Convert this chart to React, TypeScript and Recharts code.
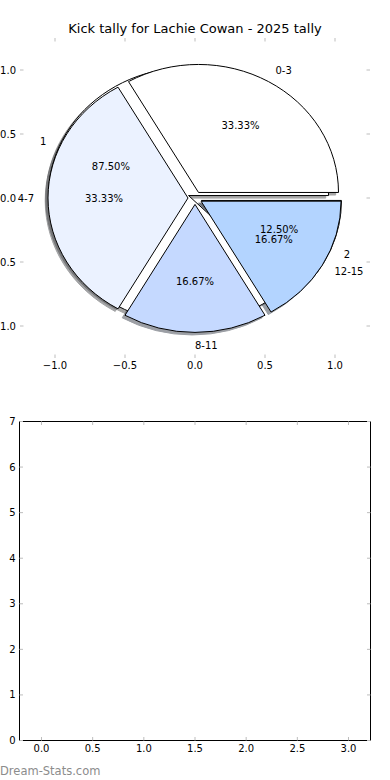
import React from 'react';
import { PieChart, Pie, Cell, ScatterChart, Scatter, XAxis, YAxis } from 'recharts';

// ---- data ----
const kickBins = ['0-3', '4-7', '8-11', '12-15'];
const kickCounts = [2, 2, 1, 1];
const groupNames = ['1', '2'];
const groupCounts = [7, 1];
const pieAxisTicks = [-1, -0.5, 0, 0.5, 1];
const barXTicks = [0, 0.5, 1, 1.5, 2, 2.5, 3];
const barYTicks = [0, 1, 2, 3, 4, 5, 6, 7];
const titleText = 'Kick tally for Lachie Cowan - 2025 tally';
const watermarkText = 'Dream-Stats.com';

// ---- styles ----
const binColors = ['#ffffff', '#ebf2ff', '#c5d9ff', '#b3d4ff'];
const groupColors = ['#ffffff', '#ebf2ff'];
const FONT = "'DejaVu Sans', sans-serif";
const TICK_COLOR = '#bdbdbd';
const TICK_LEN = 3.5;
const SX = 140 / 128; // horizontal stretch of the (non-equal-aspect) pie
const EXPLODE = 0.05;
const SHADOW = 0.02;
const RAD = Math.PI / 180;

const binsData = kickBins.map((name, i) => ({ name, value: kickCounts[i] }));
const groupsData = groupNames.map((name, i) => ({ name, value: groupCounts[i] }));

function fmt1(v: number) {
  const s = Math.abs(v).toFixed(1);
  return v < 0 ? '\u2212' + s : s;
}

function shadowColor(hex: string) {
  const h = (hex || '#ffffff').replace('#', '');
  const r = Math.round(parseInt(h.slice(0, 2), 16) * 0.3);
  const g = Math.round(parseInt(h.slice(2, 4), 16) * 0.3);
  const b = Math.round(parseInt(h.slice(4, 6), 16) * 0.3);
  return `rgb(${r},${g},${b})`;
}

function wedgePath(cx: number, cy: number, rx: number, ry: number, a0: number, a1: number) {
  const x0 = cx + rx * Math.cos(a0 * RAD);
  const y0 = cy - ry * Math.sin(a0 * RAD);
  const x1 = cx + rx * Math.cos(a1 * RAD);
  const y1 = cy - ry * Math.sin(a1 * RAD);
  const large = a1 - a0 > 180 ? 1 : 0;
  return `M${cx},${cy}L${x0},${y0}A${rx},${ry} 0 ${large} 0 ${x1},${y1}Z`;
}

const makeWedge = (kind: 'shadow' | 'fill' | 'none') => (props: any) => {
  const { cx, cy, outerRadius, startAngle, endAngle, fill } = props;
  if (kind === 'none') return <g />;
  const a0 = Math.min(startAngle, endAngle);
  const a1 = Math.max(startAngle, endAngle);
  const mid = ((a0 + a1) / 2) * RAD;
  const rx = outerRadius * SX;
  const ry = outerRadius;
  let ox = cx + EXPLODE * rx * Math.cos(mid);
  let oy = cy - EXPLODE * ry * Math.sin(mid);
  if (kind === 'shadow') {
    ox -= SHADOW * rx;
    oy += SHADOW * ry;
    const c = shadowColor(fill);
    return <path d={wedgePath(ox, oy, rx, ry, a0, a1)} fill={c} stroke={c} strokeWidth={1} opacity={0.5} />;
  }
  return <path d={wedgePath(ox, oy, rx, ry, a0, a1)} fill={fill} stroke="#000" strokeWidth={1} />;
};

const pieLabel = (props: any) => {
  const { cx, cy, outerRadius, percent } = props;
  const name = props.name ?? props.payload?.name;
  const midDeg = props.midAngle ?? (props.startAngle + props.endAngle) / 2;
  const m = midDeg * RAD;
  const rx = outerRadius * SX;
  const ry = outerRadius;
  const ox = cx + EXPLODE * rx * Math.cos(m);
  const oy = cy - EXPLODE * ry * Math.sin(m);
  const lx = ox + 1.1 * rx * Math.cos(m);
  const ly = oy - 1.1 * ry * Math.sin(m);
  const px = ox + 0.6 * rx * Math.cos(m);
  const py = oy - 0.6 * ry * Math.sin(m);
  const anchor = Math.cos(m) > -1e-6 ? 'start' : 'end';
  return (
    <g>
      <text x={lx} y={ly} textAnchor={anchor} dominantBaseline="central" fontFamily={FONT} fontSize={10} fill="#000">
        {name}
      </text>
      <text x={px} y={py} textAnchor="middle" dominantBaseline="central" fontFamily={FONT} fontSize={10} fill="#000">
        {(percent * 100).toFixed(2) + '%'}
      </text>
    </g>
  );
};

// ---- ticks ----
const BottomTick = (p: any) => (
  <g>
    <line x1={p.x} x2={p.x} y1={p.y} y2={p.y - TICK_LEN} stroke={TICK_COLOR} strokeWidth={1} />
    <text x={p.x} y={p.y + 7.5} textAnchor="middle" dominantBaseline="central" fontFamily={FONT} fontSize={10} fill="#000">
      {p.fmt(p.payload.value)}
    </text>
  </g>
);
const TopTick = (p: any) => (
  <line x1={p.x} x2={p.x} y1={p.y} y2={p.y + TICK_LEN} stroke={TICK_COLOR} strokeWidth={1} />
);
const LeftTick = (p: any) => (
  <g>
    <line x1={p.x} x2={p.x + TICK_LEN} y1={p.y} y2={p.y} stroke={TICK_COLOR} strokeWidth={1} />
    <text x={p.x - 4} y={p.y} textAnchor="end" dominantBaseline="central" fontFamily={FONT} fontSize={10} fill="#000">
      {p.fmt(p.payload.value)}
    </text>
  </g>
);
const RightTick = (p: any) => (
  <line x1={p.x} x2={p.x - TICK_LEN} y1={p.y} y2={p.y} stroke={TICK_COLOR} strokeWidth={1} />
);

function AxesFrame(props: {
  width: number;
  height: number;
  plot: { left: number; right: number; top: number; bottom: number };
  xDomain: [number, number];
  yDomain: [number, number];
  xTicks: number[];
  yTicks: number[];
  xFmt: (v: number) => string;
  yFmt: (v: number) => string;
  frame: boolean;
}) {
  const { width, height, plot, xDomain, yDomain, xTicks, yTicks, xFmt, yFmt, frame } = props;
  // axes take 1px each; margins are reduced so the plot area lands on `plot`
  const margin = { top: plot.top - 1, left: plot.left - 1, right: width - plot.right - 1, bottom: height - plot.bottom - 1 };
  const axisLine = frame ? { stroke: '#000', strokeWidth: 1 } : false;
  const common = { tickLine: false, tickSize: 0, tickMargin: 0, interval: 0 as const, allowDataOverflow: true, type: 'number' as const };
  return (
    <ScatterChart width={width} height={height} margin={margin}>
      <XAxis {...common} xAxisId="b" dataKey="x" orientation="bottom" height={1} domain={xDomain} ticks={xTicks} axisLine={axisLine} tick={<BottomTick fmt={xFmt} />} />
      <XAxis {...common} xAxisId="t" dataKey="x" orientation="top" height={1} domain={xDomain} ticks={xTicks} axisLine={axisLine} tick={<TopTick />} />
      <YAxis {...common} yAxisId="l" dataKey="y" orientation="left" width={1} domain={yDomain} ticks={yTicks} axisLine={axisLine} tick={<LeftTick fmt={yFmt} />} />
      <YAxis {...common} yAxisId="r" dataKey="y" orientation="right" width={1} domain={yDomain} ticks={yTicks} axisLine={axisLine} tick={<RightTick />} />
      <Scatter data={[]} dataKey="y" xAxisId="b" yAxisId="l" isAnimationActive={false} />
      <Scatter data={[]} dataKey="y" xAxisId="t" yAxisId="r" isAnimationActive={false} />
    </ScatterChart>
  );
}

export default function App() {
  return (
    <div style={{ position: 'absolute', left: 0, top: 0, width: 390, height: 780, background: '#fff', overflow: 'hidden' }}>
      {/* title */}
      <svg width={390} height={40} style={{ position: 'absolute', left: 0, top: 0 }}>
        <text x={195} y={33} textAnchor="middle" fontFamily={FONT} fontSize={13} fill="#000">
          {titleText}
        </text>
      </svg>

      {/* pie axes ticks */}
      <div style={{ position: 'absolute', left: 0, top: 0 }}>
        <AxesFrame
          width={390}
          height={385}
          plot={{ left: 20, right: 370, top: 38, bottom: 358 }}
          xDomain={[-1.25, 1.25]}
          yDomain={[-1.25, 1.25]}
          xTicks={pieAxisTicks}
          yTicks={pieAxisTicks}
          xFmt={fmt1}
          yFmt={fmt1}
          frame={false}
        />
      </div>

      {/* pies */}
      <div style={{ position: 'absolute', left: 0, top: 0 }}>
        <PieChart width={390} height={385} margin={{ top: 0, right: 0, bottom: 0, left: 0 }}>
          <Pie data={groupsData} dataKey="value" nameKey="name" cx={195} cy={198} outerRadius={128} startAngle={0} endAngle={360}
            isAnimationActive={false} label={false} labelLine={false}
            shape={makeWedge('shadow')} inactiveShape={makeWedge('shadow')} activeShape={makeWedge('shadow')}>
            {groupsData.map((d, i) => <Cell key={d.name} fill={groupColors[i]} />)}
          </Pie>
          <Pie data={binsData} dataKey="value" nameKey="name" cx={195} cy={198} outerRadius={128} startAngle={0} endAngle={360}
            isAnimationActive={false} label={false} labelLine={false}
            shape={makeWedge('shadow')} inactiveShape={makeWedge('shadow')} activeShape={makeWedge('shadow')}>
            {binsData.map((d, i) => <Cell key={d.name} fill={binColors[i]} />)}
          </Pie>
          <Pie data={groupsData} dataKey="value" nameKey="name" cx={195} cy={198} outerRadius={128} startAngle={0} endAngle={360}
            isAnimationActive={false} label={false} labelLine={false}
            shape={makeWedge('fill')} inactiveShape={makeWedge('fill')} activeShape={makeWedge('fill')}>
            {groupsData.map((d, i) => <Cell key={d.name} fill={groupColors[i]} />)}
          </Pie>
          <Pie data={binsData} dataKey="value" nameKey="name" cx={195} cy={198} outerRadius={128} startAngle={0} endAngle={360}
            isAnimationActive={false} label={pieLabel} labelLine={false}
            shape={makeWedge('fill')} inactiveShape={makeWedge('fill')} activeShape={makeWedge('fill')}>
            {binsData.map((d, i) => <Cell key={d.name} fill={binColors[i]} />)}
          </Pie>
          <Pie data={groupsData} dataKey="value" nameKey="name" cx={195} cy={198} outerRadius={128} startAngle={0} endAngle={360}
            isAnimationActive={false} label={pieLabel} labelLine={false}
            shape={makeWedge('none')} inactiveShape={makeWedge('none')} activeShape={makeWedge('none')}>
            {groupsData.map((d) => <Cell key={d.name} fill="none" />)}
          </Pie>
        </PieChart>
      </div>

      {/* empty lower axes */}
      <div style={{ position: 'absolute', left: 0, top: 385 }}>
        <AxesFrame
          width={390}
          height={395}
          plot={{ left: 19.5, right: 370.5, top: 36.5, bottom: 355.5 }}
          xDomain={[-0.215, 3.215]}
          yDomain={[0, 7]}
          xTicks={barXTicks}
          yTicks={barYTicks}
          xFmt={fmt1}
          yFmt={(v: number) => String(v)}
          frame={true}
        />
      </div>

      {/* watermark */}
      <svg width={390} height={30} style={{ position: 'absolute', left: 0, top: 750 }}>
        <text x={0} y={25} fontFamily={FONT} fontSize={11.5} fill="#8c8c8c">
          {watermarkText}
        </text>
      </svg>
    </div>
  );
}
